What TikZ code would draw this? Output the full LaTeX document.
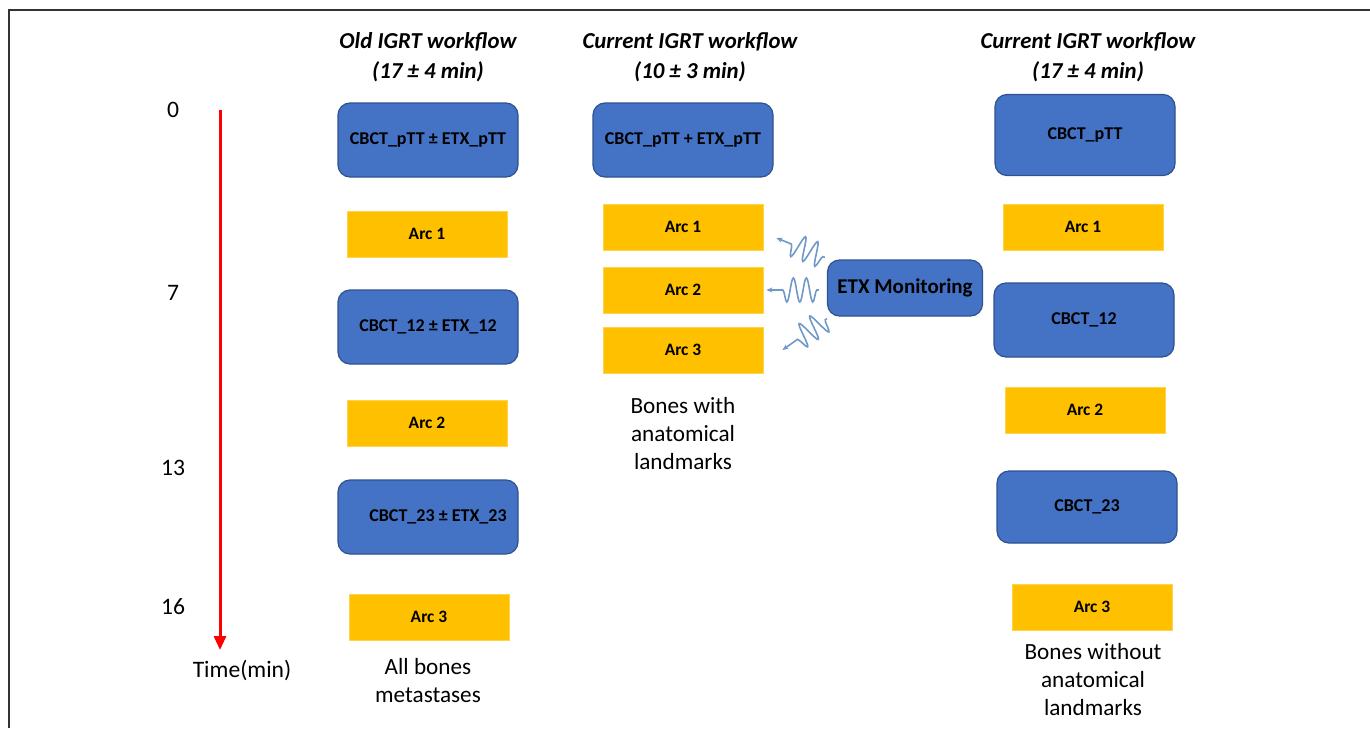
\documentclass[tikz,border=0pt]{standalone}
\usepackage{fontspec}
\setmainfont{Carlito}
\usetikzlibrary{arrows.meta,calc,decorations.pathmorphing}

\definecolor{boxblue}{RGB}{68,114,196}
\definecolor{boxline}{RGB}{47,82,143}
\definecolor{arcgold}{RGB}{255,192,0}
\definecolor{wavyblue}{RGB}{112,152,200}

\tikzset{
  bluebox/.style={draw=boxline, fill=boxblue, rounded corners=6pt, line width=0.6pt,
    minimum width=90pt, minimum height=37pt, inner sep=0pt,
    font=\fontsize{9}{11}\selectfont\bfseries},
  arcbox/.style={draw=arcgold!70!white, fill=arcgold, line width=0.4pt,
    minimum width=80pt, minimum height=23pt, inner sep=0pt,
    font=\fontsize{8.7}{10}\selectfont\bfseries},
  title/.style={align=center, font=\fontsize{11.4}{15}\selectfont\bfseries\itshape},
  note/.style={align=center, font=\fontsize{11.6}{14}\selectfont},
  tick/.style={font=\fontsize{11.8}{13}\selectfont},
  wavy/.style={wavyblue, line width=0.8pt, -{Stealth[length=3pt,width=2.5pt]},
    decorate, decoration={snake, amplitude=6pt, segment length=6.5pt,
    pre length=1pt, post length=8pt}}
}

\begin{document}
\begin{tikzpicture}[x=0.5pt, y=-0.5pt]
\useasboundingbox (0,0) rectangle (1370,728);

% frame
\draw[line width=1pt, black!80] (9,728) -- (9,10) -- (1370,10);

% time axis
\draw[red, line width=1.5pt, -{Triangle[length=7pt,width=6pt]}] (220,110) -- (220,650);
\node[tick] (t0) at (173,110) {0};
\node[tick] (t7) at (173,293) {7};
\node[tick] (t13) at (173,468) {13};
\node[tick] (t16) at (173,607) {16};
\node[tick] (tlab) at (242,670) {Time(min)};

% old workflow
\node[title] (oldtitle) at (428,57) {Old IGRT workflow\\(17 ± 4 min)};
\node[bluebox] (ocbct0) at (428,140) {CBCT\_pTT ± ETX\_pTT};
\node[arcbox] (oarc1) at (427,234) {Arc 1};
\node[bluebox] (ocbct1) at (428,327) {CBCT\_12 ± ETX\_12};
\node[arcbox] (oarc2) at (427,423) {Arc 2};
\node[bluebox] (ocbct2) at (428,517) {\hspace{10pt}CBCT\_23 ± ETX\_23};
\node[arcbox] (oarc3) at (429,617) {Arc 3};
\node[note] (onote) at (428,681) {All bones\\metastases};

% current workflow with monitoring
\node[title] (curtitle) at (690,57) {Current IGRT workflow\\(10 ± 3 min)};
\node[bluebox] (ccbct0) at (683,140) {CBCT\_pTT + ETX\_pTT};
\node[arcbox] (carc1) at (683,227) {Arc 1};
\node[arcbox] (carc2) at (683,290) {Arc 2};
\node[arcbox] (carc3) at (683,350) {Arc 3};
\node[note] (cnote) at (683,434) {Bones with\\anatomical\\landmarks};

\node[bluebox, minimum width=77.5pt, minimum height=28pt,
  font=\fontsize{10.5}{12}\selectfont\bfseries] (etx) at (905,288) {ETX Monitoring};

\coordinate (w1) at ($(etx.north west)+(-2,-2)$);
\coordinate (w2) at ($(etx.west)+(-8,2)$);
\coordinate (w3) at ($(etx.south west)+(0,2)$);
\draw[wavy] (w1) -- ($(carc1.east)+(13,11)$);
\draw[wavy] (w2) -- ($(carc2.east)+(3,0)$);
\draw[wavy] (w3) -- ($(carc3.east)+(19,0)$);

% current workflow without monitoring
\node[title] (bontitle) at (1088,57) {Current IGRT workflow\\(17 ± 4 min)};
\node[bluebox, minimum height=40.5pt] (bcbct0) at (1085,135) {CBCT\_pTT};
\node[arcbox] (barc1) at (1083,227) {Arc 1};
\node[bluebox] (bcbct1) at (1084,320) {CBCT\_12};
\node[arcbox] (barc2) at (1085,410) {Arc 2};
\node[bluebox, minimum height=36pt] (bcbct2) at (1087,507) {CBCT\_23};
\node[arcbox] (barc3) at (1092,607) {Arc 3};
\node[note] (bnote) at (1093,680) {Bones without\\anatomical\\landmarks};

\end{tikzpicture}
\end{document}
